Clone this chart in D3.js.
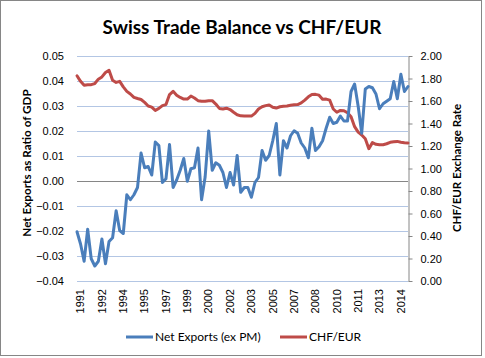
<!DOCTYPE html>
<html>
<head>
<meta charset="utf-8">
<script src="https://cdn.jsdelivr.net/npm/d3@7"></script>
<style>
  html, body { margin: 0; padding: 0; background: #fff; }
  svg { display: block; font-family: Lato, "Open Sans", sans-serif; }
</style>
</head>
<body>
<svg id="chart" width="485" height="358"></svg>
<script>
// ---------- data ----------
const xTickLabels = ["1991","1992","1994","1995","1997","1999","2000","2002",
                     "2003","2005","2007","2008","2010","2011","2013","2014"];
const netExports = [
  -0.0203,-0.0252,-0.0321,-0.0193,-0.0311,-0.0340,-0.0321,-0.0232,-0.0331,-0.0242,
  -0.0227,-0.0119,-0.0198,-0.0210,-0.0055,-0.0075,-0.0055,-0.0026, 0.0112, 0.0053,
   0.0058, 0.0024, 0.0156, 0.0142,-0.0006, 0.0009, 0.0146,-0.0026, 0.0004, 0.0043,
   0.0090,-0.0001, 0.0049, 0.0053, 0.0132,-0.0075, 0.0016, 0.0200, 0.0043, 0.0073,
   0.0063, 0.0034,-0.0026, 0.0034,-0.0016, 0.0102,-0.0045,-0.0026,-0.0026,-0.0065,
  -0.0006, 0.0014, 0.0122, 0.0083, 0.0102, 0.0161, 0.0230, 0.0024, 0.0161, 0.0132,
   0.0181, 0.0201, 0.0191, 0.0152, 0.0132, 0.0093, 0.0211, 0.0122, 0.0137, 0.0161,
   0.0211, 0.0255, 0.0230, 0.0235, 0.0260, 0.0240, 0.0240, 0.0358, 0.0388, 0.0299,
   0.0191, 0.0368, 0.0378, 0.0373, 0.0348, 0.0289, 0.0309, 0.0319, 0.0329, 0.0398,
   0.0329, 0.0427, 0.0358, 0.0378
];
const chfEur = [
  1.824,1.775,1.740,1.745,1.745,1.755,1.794,1.814,1.853,1.873,
  1.785,1.765,1.775,1.726,1.686,1.662,1.632,1.622,1.613,1.588,
  1.556,1.546,1.516,1.534,1.559,1.568,1.657,1.686,1.652,1.632,
  1.617,1.617,1.644,1.627,1.603,1.598,1.598,1.603,1.603,1.573,
  1.534,1.529,1.536,1.524,1.500,1.478,1.468,1.466,1.466,1.466,
  1.490,1.529,1.549,1.559,1.564,1.544,1.537,1.549,1.554,1.555,
  1.562,1.566,1.568,1.583,1.608,1.637,1.657,1.659,1.652,1.616,
  1.617,1.608,1.529,1.500,1.516,1.514,1.495,1.460,1.372,1.323,
  1.298,1.264,1.176,1.230,1.215,1.211,1.211,1.220,1.233,1.237,
  1.241,1.233,1.228,1.227
];
const leftTicks  = [0.05,0.04,0.03,0.02,0.01,0.00,-0.01,-0.02,-0.03,-0.04];
const rightTicks = [2.0,1.8,1.6,1.4,1.2,1.0,0.8,0.6,0.4,0.2,0.0];
const labelEvery = 6;

// ---------- layout ----------
const svg = d3.select("#chart");
const plot = { left: 77, right: 408, top: 56, bottom: 281 };
const blue = "#4a7ebb", red = "#be4b48";

const idx = d3.range(netExports.length);
const x = d3.scalePoint().domain(idx).range([plot.left, plot.right]);
const yL = d3.scaleLinear().domain([-0.04, 0.05]).range([plot.bottom, plot.top]);
const yR = d3.scaleLinear().domain([0, 2]).range([plot.bottom, plot.top]);

// chart border
svg.append("rect").attr("x", 0.5).attr("y", 0.5).attr("width", 481).attr("height", 355)
  .attr("fill", "#fff").attr("stroke", "#868686").attr("stroke-width", 1);

// gridlines
svg.append("g").selectAll("line").data(leftTicks.filter(d => d !== 0)).join("line")
  .attr("x1", plot.left).attr("x2", plot.right)
  .attr("y1", d => Math.round(yL(d)) + 0.5).attr("y2", d => Math.round(yL(d)) + 0.5)
  .attr("stroke", "#b3c6e4").attr("stroke-width", 1);

// left axis labels
const gL = svg.append("g").attr("transform", `translate(${plot.left},0)`)
  .call(d3.axisLeft(yL).tickValues(leftTicks).tickFormat(d3.format(".2f")).tickSize(0).tickPadding(13));
gL.select(".domain").remove();
gL.selectAll("text").attr("font-size", "11px").attr("fill", "#000");

// right axis
const gR = svg.append("g").attr("transform", `translate(${plot.right + 0.5},0)`)
  .call(d3.axisRight(yR).tickValues(rightTicks).tickFormat(d3.format(".2f")).tickSize(4).tickSizeOuter(0).tickPadding(8));
gR.select(".domain").attr("stroke", "#868686");
gR.selectAll(".tick line").attr("stroke", "#868686");
gR.selectAll("text").attr("font-size", "11px").attr("fill", "#000");

// zero line (category axis)
svg.append("line").attr("x1", plot.left).attr("x2", plot.right)
  .attr("y1", Math.round(yL(0)) + 0.5).attr("y2", Math.round(yL(0)) + 0.5)
  .attr("stroke", "#868686").attr("stroke-width", 1);

// x labels (low position, rotated)
const xTickIdx = idx.filter(i => i % labelEvery === 0);
const gX = svg.append("g").attr("transform", `translate(3,${plot.bottom})`)
  .call(d3.axisBottom(x).tickValues(xTickIdx).tickFormat((d, i) => xTickLabels[i]).tickSize(0));
gX.select(".domain").remove();
gX.selectAll("text").attr("font-size", "11px").attr("fill", "#000")
  .attr("text-anchor", "end").attr("transform", "rotate(-90)")
  .attr("x", -8).attr("y", 0).attr("dy", "0.35em");

// lines
const lineL = d3.line().x((d, i) => x(i)).y(d => yL(d)).curve(d3.curveLinear);
const lineR = d3.line().x((d, i) => x(i)).y(d => yR(d)).curve(d3.curveLinear);
svg.append("path").datum(chfEur).attr("d", lineR).attr("fill", "none")
  .attr("stroke", red).attr("stroke-width", 3).attr("stroke-linejoin", "round").attr("stroke-linecap", "round");
svg.append("path").datum(netExports).attr("d", lineL).attr("fill", "none")
  .attr("stroke", blue).attr("stroke-width", 3).attr("stroke-linejoin", "round").attr("stroke-linecap", "round");

// title
svg.append("text").attr("x", 242).attr("y", 34).attr("text-anchor", "middle")
  .attr("font-size", "19px").attr("font-weight", "bold").text("Swiss Trade Balance vs CHF/EUR");

// axis titles
svg.append("text").attr("transform", "translate(27,163) rotate(-90)").attr("text-anchor", "middle")
  .attr("dy", "0.35em").attr("font-size", "11.7px").attr("font-weight", "bold").text("Net Exports as Ratio of GDP");
svg.append("text").attr("transform", "translate(457,168) rotate(-90)").attr("text-anchor", "middle")
  .attr("dy", "0.35em").attr("font-size", "11.5px").attr("font-weight", "bold").text("CHF/EUR Exchange Rate");

// legend
const legend = [
  { name: "Net Exports (ex PM)", color: blue, x: 126 },
  { name: "CHF/EUR", color: red, x: 280 }
];
const lg = svg.append("g").selectAll("g").data(legend).join("g")
  .attr("transform", d => `translate(${d.x},337)`);
lg.append("line").attr("x1", 0).attr("x2", 27).attr("stroke", d => d.color).attr("stroke-width", 3);
lg.append("text").attr("x", 29).attr("dy", "0.35em").attr("font-size", "12px").text(d => d.name);
</script>
</body>
</html>
